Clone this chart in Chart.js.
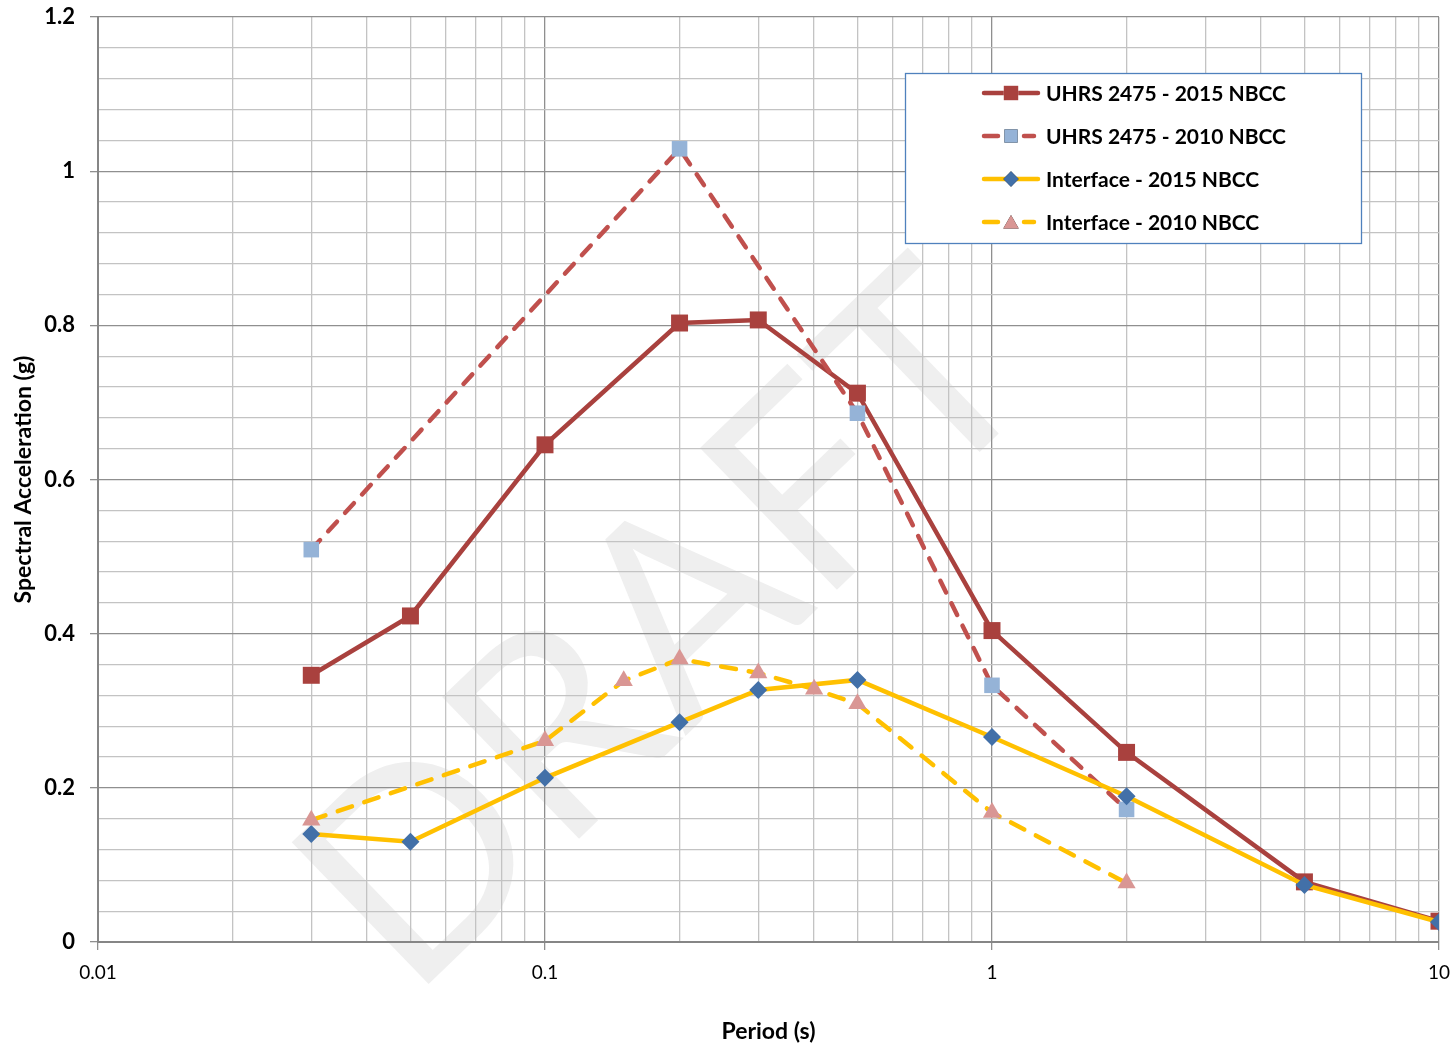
<!DOCTYPE html>
<html>
<head>
<meta charset="utf-8">
<title>Spectral Acceleration vs Period</title>
<script src="https://cdn.jsdelivr.net/npm/chart.js@4/dist/chart.umd.min.js"></script>
<style>
  html, body { margin: 0; padding: 0; background: #ffffff; }
  #wrap { width: 1454px; height: 1047px; position: relative; }
</style>
</head>
<body>
<div id="wrap"><canvas id="chart" width="1454" height="1047"></canvas></div>
<script>
// Periods (s) at which each spectrum is defined
const periods2015 = [0.03, 0.05, 0.1, 0.2, 0.3, 0.5, 1, 2, 5, 10];
const periodsUhrs2010 = [0.03, 0.2, 0.5, 1, 2];
const periodsInterface2010 = [0.03, 0.1, 0.15, 0.2, 0.3, 0.4, 0.5, 1, 2];

// Spectral accelerations (g)
const uhrs2015 = [0.346, 0.423, 0.645, 0.803, 0.807, 0.712, 0.404, 0.246, 0.078, 0.027];
const uhrs2010 = [0.509, 1.029, 0.686, 0.333, 0.172];
const interface2015 = [0.140, 0.130, 0.213, 0.285, 0.327, 0.340, 0.266, 0.189, 0.074, 0.026];
const interface2010 = [0.158, 0.261, 0.339, 0.367, 0.349, 0.328, 0.309, 0.168, 0.0765];

// Series names
const seriesNames = ['UHRS 2475 - 2015 NBCC', 'UHRS 2475 - 2010 NBCC', 'Interface - 2015 NBCC', 'Interface - 2010 NBCC'];

// Axis labels
const xTickLabels = ['0.01', '0.1', '1', '10'];
const yTickLabels = ['0', '0.2', '0.4', '0.6', '0.8', '1', '1.2'];
const xTitle = 'Period (s)';
const yTitle = 'Spectral Acceleration (g)';
const watermarkText = 'DRAFT';

const FONT = 'Lato, "Open Sans", "DejaVu Sans", sans-serif';

function pts(xs, ys) { return xs.map((x, i) => ({ x: x, y: ys[i] })); }

// Decade positions with 2..9 subdivisions for the log grid
const xMajor = xTickLabels.map(Number);
const xGridValues = [];
xMajor.forEach((d, k) => {
  if (k === xMajor.length - 1) { xGridValues.push(d); return; }
  for (let m = 1; m <= 9; m++) xGridValues.push(Number((m * d).toPrecision(6)));
});
const isXMajor = v => xMajor.some(d => Math.abs(v - d) / d < 1e-9);
const isYMajor = v => yTickLabels.some(l => Math.abs(Number(l) - v) < 1e-6);

const LW = 4.5;
const datasets = [
  {
    label: seriesNames[0], data: pts(periods2015, uhrs2015),
    borderColor: '#A9413E', borderWidth: LW, borderDash: [],
    pointStyle: 'rect', pointRadius: 12, pointBackgroundColor: '#A9413E', pointBorderColor: '#A9413E', pointBorderWidth: 0,
    order: 4
  },
  {
    label: seriesNames[1], data: pts(periodsUhrs2010, uhrs2010),
    borderColor: '#C0504D', borderWidth: LW, borderDash: [13, 12], borderCapStyle: 'round',
    pointStyle: 'rect', pointRadius: 11, pointBackgroundColor: '#95B3D7', pointBorderColor: '#95B3D7', pointBorderWidth: 0,
    order: 3
  },
  {
    label: seriesNames[2], data: pts(periods2015, interface2015),
    borderColor: '#FFC000', borderWidth: LW, borderDash: [],
    pointStyle: 'rectRot', pointRadius: 9, pointBackgroundColor: '#4270A8', pointBorderColor: '#4270A8', pointBorderWidth: 0,
    order: 2
  },
  {
    label: seriesNames[3], data: pts(periodsInterface2010, interface2010),
    borderColor: '#FFC000', borderWidth: LW, borderDash: [15, 13], borderCapStyle: 'round',
    pointStyle: 'triangle', pointRadius: 10.5, pointBackgroundColor: '#D99694', pointBorderColor: '#D99694', pointBorderWidth: 0,
    order: 1
  }
];

// White page, then the faint watermark underneath the grid
const backdrop = {
  id: 'backdrop',
  beforeDraw(chart) {
    const ctx = chart.ctx;
    ctx.save();
    ctx.fillStyle = '#ffffff';
    ctx.fillRect(0, 0, chart.width, chart.height);
    ctx.translate(729, 694);
    ctx.rotate(-44 * Math.PI / 180);
    ctx.font = '400 275px ' + FONT;
    ctx.fillStyle = '#efefef';
    ctx.textAlign = 'center';
    ctx.textBaseline = 'alphabetic';
    ctx.fillText(watermarkText, 0, 0);
    ctx.restore();
  }
};

// Boxed legend inside the plot area
const boxLegend = {
  id: 'boxLegend',
  afterDraw(chart) {
    const ctx = chart.ctx;
    const box = { x: 905.5, y: 73.5, w: 456, h: 170 };
    ctx.save();
    ctx.fillStyle = '#ffffff';
    ctx.fillRect(box.x, box.y, box.w, box.h);
    ctx.strokeStyle = '#4F81BD';
    ctx.lineWidth = 1.3;
    ctx.strokeRect(box.x, box.y, box.w, box.h);
    const rowY = [93, 136, 179, 222];
    chart.data.datasets.forEach((ds, i) => {
      const y = rowY[i];
      ctx.strokeStyle = ds.borderColor;
      ctx.lineWidth = LW;
      ctx.lineCap = 'round';
      ctx.beginPath();
      if (ds.borderDash && ds.borderDash.length) {
        ctx.moveTo(984, y); ctx.lineTo(998, y);
        ctx.moveTo(1024, y); ctx.lineTo(1034, y);
      } else {
        ctx.moveTo(984, y); ctx.lineTo(1038, y);
      }
      ctx.stroke();
      Chart.helpers.drawPoint(ctx, {
        pointStyle: ds.pointStyle, radius: ds.pointRadius * 0.85, borderWidth: 0, rotation: 0
      }, 1011, y + (ds.pointStyle === 'triangle' ? 2 : 0));
      ctx.fillStyle = ds.pointBackgroundColor;
      ctx.fill();
      ctx.fillStyle = '#000000';
      ctx.font = 'bold 21px ' + FONT;
      ctx.textAlign = 'left';
      ctx.textBaseline = 'middle';
      ctx.fillText(ds.label, 1046, y + 1);
    });
    ctx.restore();
  }
};

new Chart(document.getElementById('chart'), {
  type: 'line',
  data: { datasets: datasets },
  plugins: [backdrop, boxLegend],
  options: {
    responsive: false,
    animation: false,
    devicePixelRatio: 1,
    layout: { padding: { left: 0, right: 15, top: 17, bottom: 0 } },
    plugins: { legend: { display: false }, tooltip: { enabled: false } },
    elements: { line: { tension: 0, fill: false } },
    scales: {
      x: {
        type: 'logarithmic',
        min: 0.01, max: 10,
        afterBuildTicks(scale) { scale.ticks = xGridValues.map(v => ({ value: v })); },
        afterFit(scale) { scale.height = 105; scale.paddingLeft = 0; scale.paddingRight = 0; },
        ticks: {
          autoSkip: false, maxRotation: 0, minRotation: 0, padding: 11,
          color: '#000000', font: { family: FONT, size: 19 },
          callback(v) {
            const idx = xMajor.findIndex(d => Math.abs(v - d) / d < 1e-9);
            return idx >= 0 ? xTickLabels[idx] : '';
          }
        },
        grid: {
          drawOnChartArea: true, drawTicks: true, tickLength: 8,
          color: c => (c.tick && isXMajor(c.tick.value)) ? '#8F8F8F' : '#C3C3C3',
          tickColor: c => (c.tick && isXMajor(c.tick.value)) ? '#8F8F8F' : 'rgba(0,0,0,0)',
          lineWidth: 1.3
        },
        border: { display: true, color: '#868686', width: 2 },
        title: {
          display: true, text: xTitle, color: '#000000',
          font: { family: FONT, size: 23, weight: 'bold' },
          padding: { top: 0, bottom: 2 }
        }
      },
      y: {
        type: 'linear',
        min: 0, max: 1.2,
        afterBuildTicks(scale) {
          const t = [];
          for (let k = 0; k <= 30; k++) t.push({ value: Number((k * 0.04).toFixed(2)) });
          scale.ticks = t;
        },
        afterFit(scale) { scale.width = 98; scale.paddingTop = 0; scale.paddingBottom = 0; },
        ticks: {
          autoSkip: false, padding: 15,
          color: '#000000', font: { family: FONT, size: 22, weight: 'bold' },
          callback(v) {
            const idx = yTickLabels.findIndex(l => Math.abs(Number(l) - v) < 1e-6);
            return idx >= 0 ? yTickLabels[idx] : '';
          }
        },
        grid: {
          drawTicks: true, tickLength: 8,
          color: c => (c.tick && isYMajor(c.tick.value)) ? '#8F8F8F' : '#C3C3C3',
          tickColor: c => (c.tick && isYMajor(c.tick.value)) ? '#8F8F8F' : 'rgba(0,0,0,0)',
          lineWidth: 1.3
        },
        border: { display: true, color: '#868686', width: 2 },
        title: {
          display: true, text: yTitle, color: '#000000',
          font: { family: FONT, size: 23, weight: 'bold' },
          padding: { top: 10, bottom: 0 }
        }
      }
    }
  }
});
</script>
</body>
</html>
